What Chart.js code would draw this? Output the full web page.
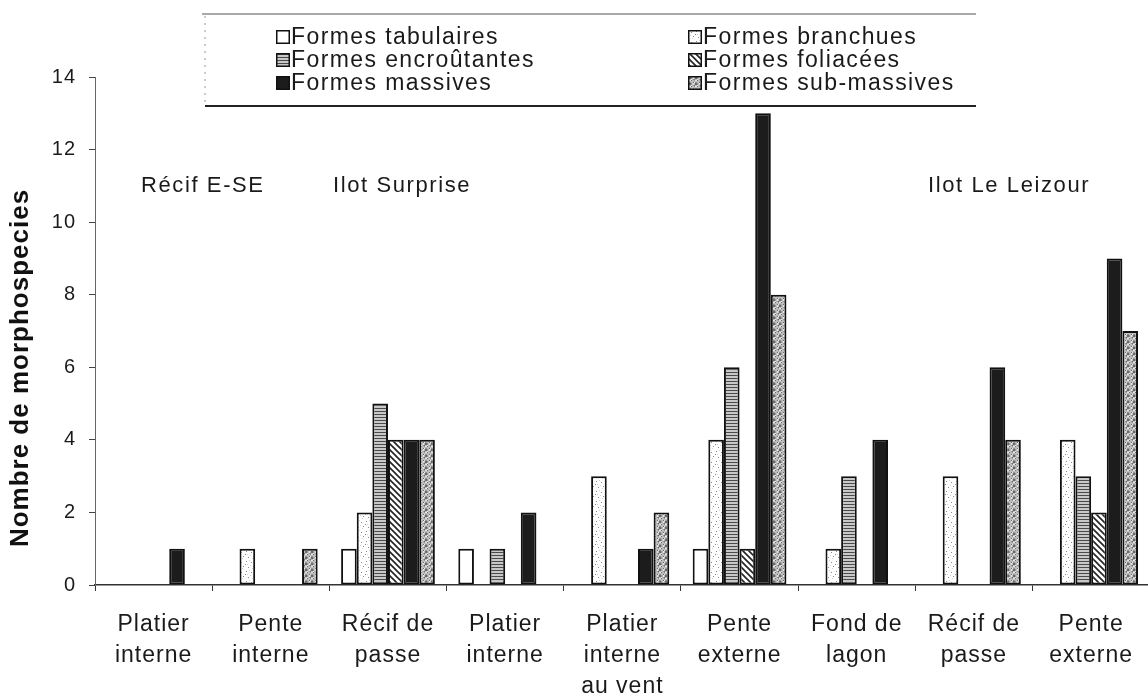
<!DOCTYPE html>
<html>
<head>
<meta charset="utf-8">
<script src="https://cdn.jsdelivr.net/npm/chart.js@4"></script>
<style>
  html, body { margin: 0; padding: 0; background: #fff; overflow: hidden; }
  #wrap { position: relative; width: 1151px; height: 693px; }
</style>
</head>
<body>
<div id="wrap"><canvas id="myChart"></canvas></div>
<script>
// categories (two or three line labels)
const categories = [
  ["Platier", "interne"],
  ["Pente", "interne"],
  ["Récif de", "passe"],
  ["Platier", "interne"],
  ["Platier", "interne", "au vent"],
  ["Pente", "externe"],
  ["Fond de", "lagon"],
  ["Récif de", "passe"],
  ["Pente", "externe"]
];
const seriesNames = [
  "Formes tabulaires", "Formes branchues", "Formes encroûtantes",
  "Formes foliacées", "Formes massives", "Formes sub-massives"
];
const tabulaires   = [0, 0, 1, 1, 0, 1, 0, 0, 0];
const branchues    = [0, 1, 2, 0, 3, 4, 1, 3, 4];
const encroutantes = [0, 0, 5, 1, 0, 6, 3, 0, 3];
const foliacees    = [0, 0, 4, 0, 0, 1, 0, 0, 2];
const massives     = [1, 0, 4, 2, 1, 13, 4, 6, 9];
const subMassives  = [0, 1, 4, 0, 2, 8, 0, 4, 7];
const yTicks = [0, 2, 4, 6, 8, 10, 12, 14];
const yTitle = "Nombre de morphospecies";
// site names written over the plot, x in category units, y in data units
const sites = ["Récif E-SE", "Ilot Surprise", "Ilot Le Leizour"];
const siteX = [0.42, 2.12, 7.30];
const siteY = 11.0;

const FONT = "'Liberation Sans', Arial, Helvetica, sans-serif";
var canvas = document.getElementById("myChart");
var mainCtx = canvas.getContext("2d");

function makePattern(w, h, draw) {
  var c = document.createElement("canvas");
  c.width = w; c.height = h;
  var g = c.getContext("2d");
  draw(g, w, h);
  return mainCtx.createPattern(c, "repeat");
}

// fills that imitate the printed hatching
var fills = [
  "#ffffff",
  makePattern(10, 10, function (g) {
    g.fillStyle = "#ffffff"; g.fillRect(0, 0, 10, 10);
    g.fillStyle = "#8a8a8a";
    [[1, 2], [6, 1], [3, 6], [8, 7], [5, 4]].forEach(function (p) { g.fillRect(p[0], p[1], 1, 1); });
    g.fillStyle = "#d4d4d4";
    [[2, 8], [7, 4], [0, 5], [9, 0]].forEach(function (p) { g.fillRect(p[0], p[1], 1, 1); });
  }),
  makePattern(4, 3, function (g) {
    g.fillStyle = "#c8c8c8"; g.fillRect(0, 0, 4, 3);
    g.fillStyle = "#4a4a4a"; g.fillRect(0, 0, 4, 1);
  }),
  makePattern(6, 6, function (g) {
    g.fillStyle = "#ffffff"; g.fillRect(0, 0, 6, 6);
    g.strokeStyle = "#222"; g.lineWidth = 1.6;
    g.beginPath();
    g.moveTo(-1, -1); g.lineTo(7, 7);
    g.moveTo(-4, 2); g.lineTo(1, 7);
    g.moveTo(2, -4); g.lineTo(7, 1);
    g.stroke();
  }),
  "#1c1c1c",
  makePattern(6, 6, function (g) {
    for (var y = 0; y < 6; y++) {
      for (var x = 0; x < 6; x++) {
        var k = (x * 7 + y * 13 + x * y) % 5;
        g.fillStyle = k === 0 ? "#6a6a6a" : k === 1 ? "#e8e8e8" : k === 2 ? "#969696" : "#bdbdbd";
        g.fillRect(x, y, 1, 1);
      }
    }
  })
];

const seriesValues = [tabulaires, branchues, encroutantes, foliacees, massives, subMassives];

var datasets = seriesValues.map(function (vals, i) {
  return {
    label: seriesNames[i],
    data: vals,
    backgroundColor: fills[i],
    borderColor: "#111",
    borderWidth: 2,
    borderSkipped: false,
    categoryPercentage: 0.8,
    barPercentage: 1.0
  };
});

var spacingPlugin = {
  id: "spacing",
  beforeUpdate: function (chart) { chart.ctx.letterSpacing = "1px"; },
  beforeDraw: function (chart) { chart.ctx.letterSpacing = "1px"; }
};

var textPlugin = {
  id: "sites",
  afterDatasetsDraw: function (chart) {
    var ctx = chart.ctx;
    ctx.save();
    ctx.letterSpacing = "1.6px";
    ctx.font = "22px " + FONT;
    ctx.fillStyle = "#1a1a1a";
    ctx.textAlign = "center";
    ctx.textBaseline = "middle";
    sites.forEach(function (s, i) {
      ctx.fillText(s, chart.scales.x.getPixelForValue(siteX[i]), chart.scales.y.getPixelForValue(siteY));
    });
    // axis title, sits a bit below the middle of the axis like the print
    ctx.letterSpacing = "1px";
    ctx.font = "bold 26px " + FONT;
    ctx.fillStyle = "#111";
    ctx.translate(21, 368);
    ctx.rotate(-Math.PI / 2);
    ctx.fillText(yTitle, 0, 0);
    ctx.restore();
  }
};

// boxed legend, two columns and three rows
var legendPlugin = {
  id: "boxLegend",
  afterDraw: function (chart) {
    var ctx = chart.ctx;
    var cols = [276, 688], rows = [37, 60, 83];
    ctx.save();
    ctx.fillStyle = "#fff";
    ctx.fillRect(204, 15, 772, 90);
    ctx.strokeStyle = "#555"; ctx.lineWidth = 1.2;
    ctx.beginPath(); ctx.moveTo(202, 14); ctx.lineTo(976, 14); ctx.stroke();
    ctx.strokeStyle = "#222"; ctx.lineWidth = 1.8;
    ctx.beginPath(); ctx.moveTo(205, 106); ctx.lineTo(976, 106); ctx.stroke();
    ctx.setLineDash([2, 5]); ctx.strokeStyle = "#999"; ctx.lineWidth = 1;
    ctx.beginPath(); ctx.moveTo(205, 16); ctx.lineTo(205, 104); ctx.stroke();
    ctx.setLineDash([]);
    ctx.letterSpacing = "1.4px";
    ctx.font = "23px " + FONT;
    ctx.textBaseline = "middle";
    ctx.textAlign = "left";
    chart.data.datasets.forEach(function (ds, i) {
      var x = cols[i % 2], y = rows[Math.floor(i / 2)];
      ctx.fillStyle = ds.backgroundColor;
      ctx.fillRect(x, y - 7, 14, 14);
      ctx.strokeStyle = "#111"; ctx.lineWidth = 1.5;
      ctx.strokeRect(x + 0.75, y - 6.25, 12.5, 12.5);
      ctx.fillStyle = "#1a1a1a";
      ctx.fillText(ds.label, x + 15, y + 1);
    });
    ctx.restore();
  }
};

var myChart = new Chart(canvas, {
  type: "bar",
  data: { labels: categories, datasets: datasets },
  plugins: [spacingPlugin, textPlugin, legendPlugin],
  options: {
    responsive: true,
    maintainAspectRatio: false,
    animation: false,
    layout: { padding: { top: 77, right: 0, left: 0, bottom: 0 } },
    plugins: {
      legend: { display: false },
      tooltip: { enabled: false }
    },
    scales: {
      x: {
        grid: { display: true, drawOnChartArea: false, offset: true, tickLength: 6, color: "#333", lineWidth: 1 },
        border: { display: true, color: "#333", width: 1.5 },
        ticks: {
          color: "#1a1a1a",
          padding: 18,
          maxRotation: 0,
          autoSkip: false,
          font: { family: FONT, size: 23, lineHeight: 1.35 }
        },
        afterFit: function (scale) { scale.height = 108; }
      },
      y: {
        min: 0,
        max: 14,
        afterBuildTicks: function (scale) {
          scale.ticks = yTicks.map(function (v) { return { value: v }; });
        },
        grid: { display: true, drawOnChartArea: false, tickLength: 6, color: "#444", lineWidth: 1 },
        border: { display: true, color: "#666", width: 1 },
        ticks: {
          color: "#1a1a1a",
          padding: 13,
          font: { family: FONT, size: 20 }
        },
        afterFit: function (scale) { scale.width = 95; }
      }
    }
  }
});
</script>
</body>
</html>
